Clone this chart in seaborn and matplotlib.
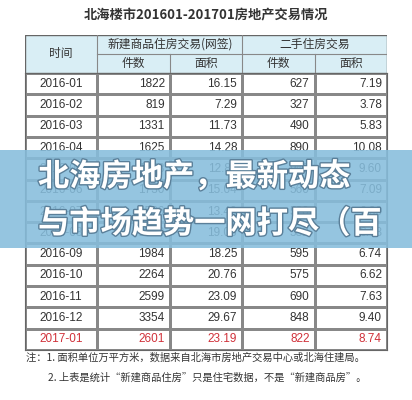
import matplotlib
matplotlib.use("Agg")
import matplotlib.pyplot as plt
import matplotlib.patheffects as pe
from matplotlib.colors import ListedColormap
from matplotlib.patches import Rectangle
import seaborn as sns
import numpy as np

months = ["2016-01", "2016-02", "2016-03", "2016-04", "2016-05", "2016-06", "2016-07",
          "2016-08", "2016-09", "2016-10", "2016-11", "2016-12", "2017-01"]
new_count = [1822, 819, 1331, 1625, 1473, 1730, 1526, 2023, 1984, 2264, 2599, 3354, 2601]
new_area = [16.15, 7.29, 11.73, 14.28, 12.85, 15.04, 13.40, 19.06, 18.25, 20.76, 23.09, 29.67, 23.19]
old_count = [627, 327, 490, 890, 940, 560, 520, 582, 595, 575, 690, 848, 822]
old_area = [7.19, 3.78, 5.83, 10.08, 9.60, 7.09, 6.80, 6.68, 6.74, 6.62, 7.63, 9.40, 8.74]

W, H = 412, 400
fig = plt.figure(figsize=(W / 100, H / 100), dpi=100)
plt.rcParams["font.family"] = ["Liberation Sans", "Noto Sans CJK SC", "DejaVu Sans"]
cjk = ["Noto Sans CJK SC", "DejaVu Sans"]

x0, x1 = 25, 387
yt, yh, y0, y1 = 35, 55, 73, 350


def fbox(l, t, r, b):
    return [l / W, 1 - b / H, (r - l) / W, (b - t) / H]


# body cells through seaborn heatmap
ax = fig.add_axes(fbox(x0, y0, x1, y1))
n = len(months)
sns.heatmap(np.zeros((n, 5)), cmap=ListedColormap(["white"]), cbar=False,
            linewidths=0.8, linecolor="#888888", ax=ax, xticklabels=False, yticklabels=False)
for sp in ax.spines.values():
    sp.set_visible(True)
    sp.set_color("#666666")
for i in range(n):
    col = "#d0313a" if i == n - 1 else "#333333"
    ax.text(0.5, i + 0.5, months[i], ha="center", va="center", fontsize=8.5, color=col)
    vals = [f"{new_count[i]}", f"{new_area[i]:.2f}", f"{old_count[i]}", f"{old_area[i]:.2f}"]
    for j, v in enumerate(vals):
        ax.text(j + 1.93, i + 0.5, v, ha="right", va="center", fontsize=8.5, color=col)

# header
hx = fig.add_axes(fbox(x0, yt, x1, y0))
hx.set_xlim(0, 5)
hx.set_ylim(2, 0)
hx.axis("off")
hx.add_patch(Rectangle((0, 0), 5, 2, facecolor="#d9eef5", edgecolor="#666666", lw=1))
for xs, ys in [((1, 1), (0, 2)), ((3, 3), (0, 2)), ((1, 5), (1, 1)), ((2, 2), (1, 2)), ((4, 4), (1, 2))]:
    hx.plot(xs, ys, color="#888888", lw=0.8)
hx.text(0.5, 1, "时间", ha="center", va="center", fontsize=8.5, family=cjk, color="#333333")
hx.text(2, 0.5, "新建商品住房交易(网签)", ha="center", va="center", fontsize=8.5, family=cjk, color="#333333")
hx.text(4, 0.5, "二手住房交易", ha="center", va="center", fontsize=8.5, family=cjk, color="#333333")
for j, s in enumerate(["件数", "面积", "件数", "面积"]):
    hx.text(j + 1.5, 1.5, s, ha="center", va="center", fontsize=8.5, family=cjk, color="#333333")

fig.text(206 / W, 1 - 15 / H, "北海楼市201601-201701房地产交易情况", ha="center", va="center",
         fontsize=9.5, fontweight="bold", family=cjk, color="#333333")
fig.text(26 / W, 1 - 358 / H, "注：1. 面积单位万平方米，数据来自北海市房地产交易中心或北海住建局。",
         ha="left", va="center", fontsize=7.4, family=cjk, color="#333333")
fig.text(48 / W, 1 - 378 / H, "2. 上表是统计“新建商品住房”只是住宅数据，不是“新建商品房”。",
         ha="left", va="center", fontsize=7.4, family=cjk, color="#333333")

# banner overlay
fig.patches.append(Rectangle((0, 1 - 248 / H), 1, 98 / H, transform=fig.transFigure,
                             facecolor="#86bddc", alpha=0.88, edgecolor="none", zorder=5))
fx = [pe.withStroke(linewidth=2, foreground="#5a7f99")]
fig.text(38 / W, 1 - 177 / H, "北海房地产，最新动态", ha="left", va="center", fontsize=22.5,
         fontweight="bold", family=cjk, color="white", zorder=6, path_effects=fx)
fig.text(38 / W, 1 - 224 / H, "与市场趋势一网打尽（百", ha="left", va="center", fontsize=22.5,
         fontweight="bold", family=cjk, color="white", zorder=6, path_effects=fx)

fig.savefig("out.png", dpi=100)
